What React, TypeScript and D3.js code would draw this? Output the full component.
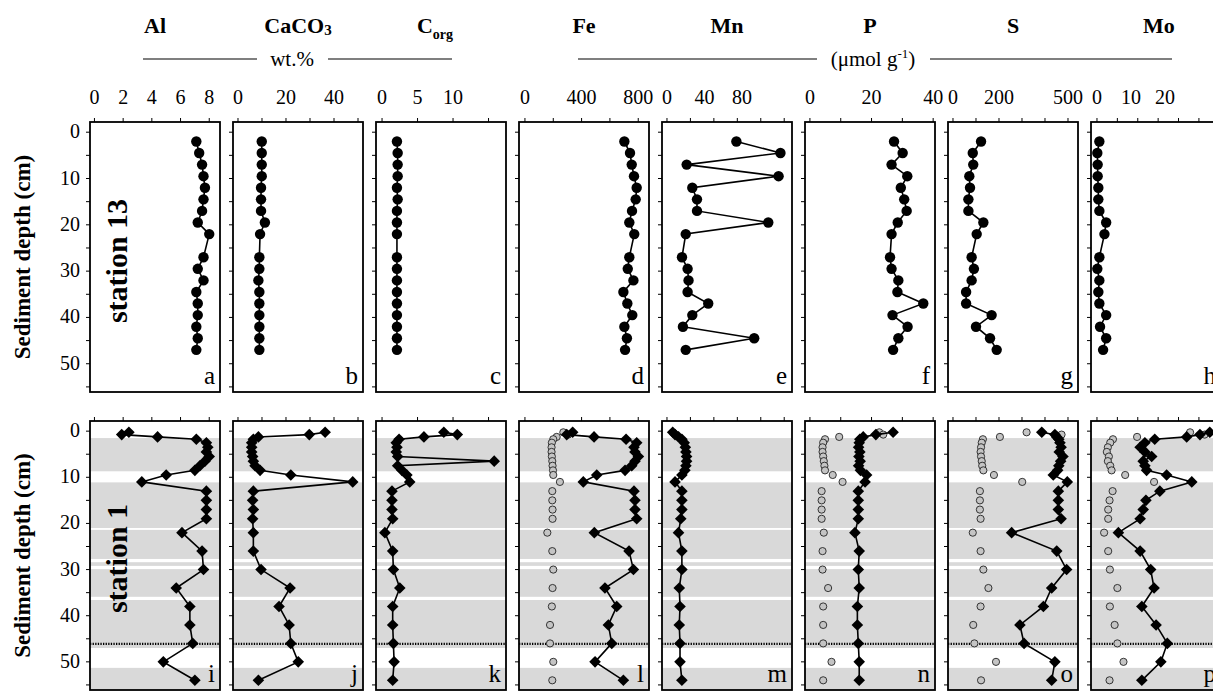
import React from 'react';
import * as d3 from 'd3';

// station 13 (top row), depth in cm
const depth13 = [2, 4.5, 7, 9.5, 12, 14.5, 17, 19.5, 22, 27, 29.5, 32, 34.5, 37, 39.5, 42, 44.5, 47];
const al13 = [7.1, 7.3, 7.5, 7.6, 7.7, 7.6, 7.5, 7.2, 8.0, 7.6, 7.2, 7.6, 7.1, 7.2, 7.2, 7.1, 7.2, 7.1];
const caco3_13 = [9.9, 9.9, 9.9, 9.9, 9.6, 9.6, 9.6, 11.2, 9.2, 8.9, 8.9, 8.5, 8.9, 8.9, 8.9, 8.9, 8.9, 8.9];
const corg13 = [2.1, 2.2, 2.2, 2.2, 2.1, 2.2, 2.1, 2.1, 2.1, 2.1, 2.1, 2.1, 2.1, 2.1, 2.1, 2.1, 2.1, 2.1];
const fe13 = [702, 742, 754, 770, 789, 782, 756, 737, 772, 737, 726, 766, 695, 723, 758, 702, 720, 707];
const mn13 = [74, 121, 21, 119, 27, 32, 32, 108, 20, 16, 22, 23, 22, 44, 27, 17, 93, 20];
const p13 = [27.3, 30.1, 26.5, 31.6, 29.5, 30.6, 31.4, 28.5, 26.5, 26, 26.5, 28.7, 28.4, 36.8, 26.8, 31.7, 28.7, 27];
const s13 = [122, 86, 88, 71, 74, 67, 67, 132, 103, 81, 91, 81, 57, 57, 168, 100, 161, 190];
const mo13 = [0.7, 0.1, 0.2, 0.2, 0.4, 0.4, 0.7, 2.7, 2.2, 0.7, 0.1, 0.7, 0.4, 0.7, 2.7, 0.9, 2.7, 1.8];

// station 1 (bottom row)
const depth1 = [0.25, 0.75, 1.25, 1.75, 2.5, 3.5, 4.5, 5.5, 6.5, 7.5, 8.5, 9.5, 11, 13, 15, 17, 19, 22, 26, 30, 34, 38, 42, 46, 50, 54];
const al1 = [2.4, 1.9, 4.4, 7.1, 7.8, 7.9, 7.8, 8.0, 7.7, 7.35, 7.0, 5.0, 3.3, 7.8, 7.8, 7.8, 7.8, 6.1, 7.5, 7.6, 5.7, 6.65, 6.65, 6.85, 4.8, 7.0];
const caco3_1 = [36.3, 29.7, 8.5, 6.4, 5.7, 5.7, 5.7, 6.1, 6.4, 7.1, 9.2, 22, 47.8, 6.4, 6.1, 6.4, 6.1, 6.4, 6.4, 9.6, 21.7, 17.1, 21.3, 22, 25.1, 8.5];
const corg1 = [8.7, 10.6, 5.9, 2.4, 2.0, 2.1, 2.0, 2.2, 15.8, 2.2, 2.8, 3.5, 3.9, 1.4, 1.4, 1.4, 1.5, 0.4, 1.5, 1.6, 2.5, 1.5, 1.5, 1.6, 1.7, 1.5];
const fe1 = [337, 295, 488, 714, 789, 770, 777, 801, 777, 754, 707, 507, 412, 770, 777, 777, 789, 490, 735, 766, 565, 648, 589, 613, 495, 695];
const fe1Open = [271, 306, 224, 200, 190, 188, 188, 190, 193, 195, 198, 200, 247, 193, 193, 195, 195, 158, 193, 200, 195, 190, 177, 177, 200, 193];
const mn1 = [6.1, 8.6, 12.3, 15.9, 18.4, 19.6, 20.2, 20.9, 20.9, 20.2, 19.1, 15.9, 8.6, 15.9, 15.9, 15.9, 14.7, 12.3, 15.9, 15.9, 13.1, 13.9, 13.1, 13.9, 13.9, 15.9];
const p1 = [27, 21.4, 17.3, 16.2, 16.0, 15.8, 16.2, 15.9, 16.3, 15.8, 16.4, 18.4, 17.9, 15.7, 15.7, 15.7, 15.7, 14.6, 16, 15.7, 16, 15.4, 15.4, 15.7, 16, 16];
const p1Open = [22.5, 23.8, 9.5, 4.9, 4.3, 4.1, 4.1, 4.3, 4.5, 4.7, 4.9, 7.4, 10.6, 3.8, 3.8, 3.8, 3.8, 4.5, 4.1, 4.1, 5.9, 4.3, 4.3, 4.3, 7, 4.3];
const s1 = [386, 443, 451, 460, 465, 470, 462, 478, 468, 460, 455, 436, 497, 458, 458, 458, 470, 255, 451, 494, 429, 393, 291, 309, 443, 429];
const s1Open = [320, 472, 204, 130, 125, 122, 120, 122, 125, 127, 132, 178, 301, 117, 117, 117, 120, 86, 120, 132, 154, 120, 88, 93, 187, 122];
const mo1 = [33.2, 30.3, 26.4, 17.0, 14.1, 12.7, 14.1, 16.1, 13.6, 14.1, 14.6, 20.5, 27.9, 18.5, 14.4, 13.6, 12.7, 6.3, 12.7, 15.8, 16.8, 13.2, 17.4, 20.7, 18.8, 13.2];
const mo1Open = [27.4, 31.7, 11.8, 4.7, 3.9, 3.2, 2.9, 3.5, 3.2, 3.9, 4.3, 8.3, 16.8, 4.6, 3.7, 3.3, 3.3, 2.1, 3.3, 3.8, 6.0, 3.8, 5.2, 6.0, 7.8, 3.7];

// shaded (grey) depth intervals for station 1, and the dotted horizon
const shadedBands = [[1.5, 8.7], [11.1, 21.0], [21.4, 27.7], [28.4, 29.2], [29.9, 35.9], [36.6, 47.0], [51.3, 57]];
const dottedDepth = 46.1;

const depthTicks = [0, 5, 10, 15, 20, 25, 30, 35, 40, 45, 50, 55];
const depthLabels = [0, 10, 20, 30, 40, 50];

const panels = [
  { domain: [-0.31, 8.75], ticks: [0, 2, 4, 6, 8], labels: [0, 2, 4, 6, 8], top: al13, bot: al1, open: null, letters: ['a', 'i'] },
  { domain: [-2.08, 52.08], ticks: [0, 10, 20, 30, 40, 50], labels: [0, 20, 40], top: caco3_13, bot: caco3_1, open: null, letters: ['b', 'j'] },
  { domain: [-0.85, 17.46], ticks: [0, 5, 10, 15], labels: [0, 5, 10], top: corg13, bot: corg1, open: null, letters: ['c', 'k'] },
  { domain: [-42, 876], ticks: [0, 200, 400, 600, 800], labels: [0, 400, 800], top: fe13, bot: fe1, open: fe1Open, letters: ['d', 'l'] },
  { domain: [-5.3, 133.3], ticks: [0, 25, 50, 75, 100, 125], labels: [0, 40, 80], top: mn13, bot: mn1, open: null, letters: ['e', 'm'] },
  { domain: [-1.6, 40.6], ticks: [0, 10, 20, 30, 40], labels: [0, 20, 40], top: p13, bot: p1, open: p1Open, letters: ['f', 'n'] },
  { domain: [-21.7, 543.5], ticks: [0, 100, 200, 300, 400, 500], labels: [0, 200, 500], top: s13, bot: s1, open: s1Open, letters: ['g', 'o'] },
  { domain: [-1.76, 36.5], ticks: [0, 6, 12, 18, 24, 30], labels: [0, 10, 20], top: mo13, bot: mo1, open: mo1Open, letters: ['h', 'p'] },
];

const FONT = '"Liberation Serif", "Times New Roman", serif';

export default function App() {
  const W = 1213, H = 691;
  const x0 = 90, step = 143, pw = 130;
  const rows = [{ top: 122, bottom: 392 }, { top: 421, bottom: 690 }];
  const yScales = rows.map(r => d3.scaleLinear().domain([-2.2, 56.1]).range([r.top, r.bottom]));
  const centers = panels.map((_, i) => x0 + i * step + pw / 2);

  const diamond = (cx: number, cy: number, r = 5.8) =>
    `M${cx},${cy - r}L${cx + r},${cy}L${cx},${cy + r}L${cx - r},${cy}Z`;

  return (
    <svg width={W} height={H} style={{ position: 'absolute', left: 0, top: 0, background: '#fff' }} fontFamily={FONT}>
      {/* header titles */}
      <g fontWeight="bold" fontSize={22} textAnchor="middle">
        <text x={centers[0]} y={33}>Al</text>
        <text x={centers[1]} y={33}>CaCO<tspan fontSize={15} dy={2}>3</tspan></text>
        <text x={centers[2] - 6} y={33}>C<tspan fontSize={14} dy={6}>org</tspan></text>
        <text x={centers[3]} y={33}>Fe</text>
        <text x={centers[4]} y={33}>Mn</text>
        <text x={centers[5]} y={33}>P</text>
        <text x={centers[6]} y={33}>S</text>
        <text x={centers[7] + 3} y={33}>Mo</text>
      </g>
      <g stroke="#000" strokeWidth={1.2}>
        <line x1={centers[0] - 12} x2={centers[1] - 41} y1={59} y2={59} />
        <line x1={centers[1] + 30} x2={centers[2] + 11} y1={59} y2={59} />
        <line x1={centers[3] - 6} x2={centers[5] - 53} y1={59} y2={59} />
        <line x1={centers[5] + 60} x2={centers[7] + 16} y1={59} y2={59} />
      </g>
      <text x={centers[1] - 6} y={66} fontSize={21} textAnchor="middle">wt.%</text>
      <text x={centers[5] + 3} y={66} fontSize={21} textAnchor="middle">
        (μmol g<tspan fontSize={13} dy={-8}>-1</tspan><tspan dy={8}>)</tspan>
      </text>

      {/* y axis titles */}
      {rows.map((r, ri) => (
        <text key={'yt' + ri} transform={`translate(30,${(r.top + r.bottom) / 2}) rotate(-90)`}
          fontSize={23} fontWeight="bold" textAnchor="middle">Sediment depth (cm)</text>
      ))}
      {rows.map((r, ri) => (
        <g key={'yl' + ri} fontSize={20} textAnchor="end">
          {depthLabels.map(d => (
            <text key={d} x={80} y={yScales[ri](d) + 6}>{d}</text>
          ))}
        </g>
      ))}

      {panels.map((p, i) => {
        const L = x0 + i * step;
        const x = d3.scaleLinear().domain(p.domain).range([L, L + pw]);
        return (
          <g key={i}>
            {/* top tick labels */}
            <g fontSize={20} textAnchor="middle">
              {p.labels.map(v => <text key={v} x={x(v)} y={104}>{v}</text>)}
            </g>
            {rows.map((r, ri) => {
              const y = yScales[ri];
              const vals = ri === 0 ? p.top : p.bot;
              const deps = ri === 0 ? depth13 : depth1;
              const pts: [number, number][] = vals.map((v, k) => [x(v), y(deps[k])]);
              const line = d3.line()(pts) || '';
              return (
                <g key={ri}>
                  {ri === 1 && shadedBands.map((b, k) => (
                    <rect key={k} x={L} width={pw} y={y(b[0])} height={Math.min(y(b[1]), r.bottom) - y(b[0])} fill="#d9d9d9" />
                  ))}
                  {ri === 1 && (
                    <line x1={L} x2={L + pw} y1={y(dottedDepth)} y2={y(dottedDepth)} stroke="#000" strokeWidth={2.2} strokeDasharray="1.3,1.3" />
                  )}
                  {/* ticks */}
                  <g stroke="#000" strokeWidth={1}>
                    {p.ticks.map(t => <line key={t} x1={x(t)} x2={x(t)} y1={r.top - 4} y2={r.top} />)}
                    {depthTicks.map(t => <line key={'d' + t} x1={L - 4} x2={L} y1={y(t)} y2={y(t)} />)}
                  </g>
                  {ri === 1 && p.open && p.open.map((v, k) => (
                    <circle key={'o' + k} cx={x(v)} cy={y(depth1[k])} r={3.6} fill="#c4c4c4" stroke="#222" strokeWidth={0.9} />
                  ))}
                  <path d={line} fill="none" stroke="#000" strokeWidth={1.6} />
                  {ri === 0
                    ? pts.map((pt, k) => <circle key={k} cx={pt[0]} cy={pt[1]} r={5.2} fill="#000" />)
                    : pts.map((pt, k) => <path key={k} d={diamond(pt[0], pt[1])} fill="#000" />)}
                  <rect x={L} y={r.top} width={pw} height={r.bottom - r.top} fill="none" stroke="#000" strokeWidth={1.8} />
                  <text x={L + pw - 5} y={r.bottom - 8} fontSize={25} textAnchor="end">{p.letters[ri]}</text>
                </g>
              );
            })}
          </g>
        );
      })}

      {/* station labels */}
      <text transform={`translate(127,${(rows[0].top + rows[0].bottom) / 2 + 4}) rotate(-90)`} fontSize={30} fontWeight="bold" textAnchor="middle">station 13</text>
      <text transform={`translate(127,${(rows[1].top + rows[1].bottom) / 2 + 3}) rotate(-90)`} fontSize={30} fontWeight="bold" textAnchor="middle">station 1</text>
    </svg>
  );
}
